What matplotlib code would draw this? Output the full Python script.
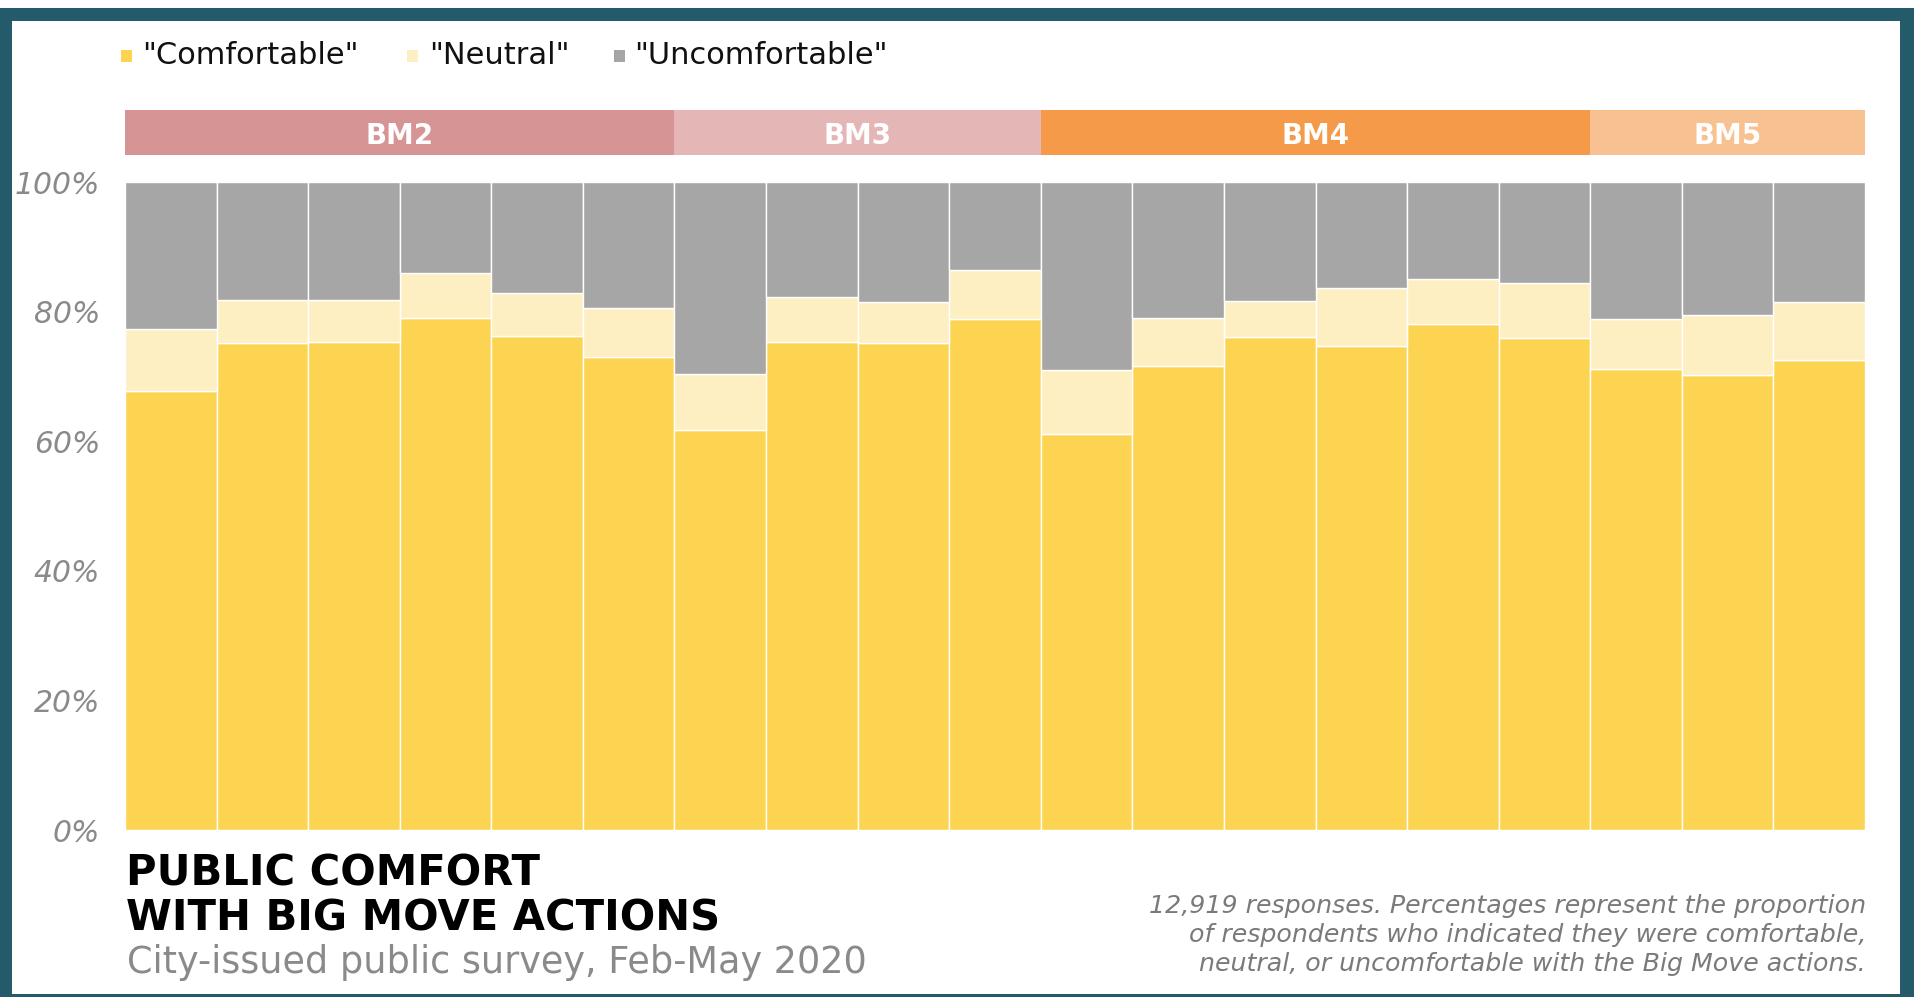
import numpy as np
import matplotlib
matplotlib.use("Agg")
import matplotlib.pyplot as plt
from matplotlib.patches import Rectangle

# survey shares per Big Move action (percent)
comfortable = [67.7, 75.2, 75.3, 79.0, 76.2, 73.0, 61.7, 75.3, 75.2, 78.9,
               61.1, 71.6, 76.1, 74.7, 78.1, 75.9, 71.1, 70.2, 72.5]
neutral = [9.6, 6.6, 6.5, 7.0, 6.7, 7.6, 8.7, 7.0, 6.3, 7.5,
           9.9, 7.4, 5.5, 8.9, 6.9, 8.5, 7.8, 9.3, 9.0]
uncomfortable = [22.7, 18.2, 18.2, 14.0, 17.1, 19.4, 29.6, 17.7, 18.5, 13.6,
                 29.0, 21.0, 18.4, 16.4, 15.0, 15.6, 21.1, 20.5, 18.5]

groups = ["BM2", "BM3", "BM4", "BM5"]
group_sizes = [6, 4, 6, 3]
group_colors = ["#D79494", "#E4B6B5", "#F59A48", "#F8C192"]

series_names = ['"Comfortable"', '"Neutral"', '"Uncomfortable"']
series_colors = ["#FDD352", "#FDEFC2", "#A6A6A6"]
yticks = [0, 20, 40, 60, 80, 100]

W, H = 1915, 997
def fx(px):
    return px / W
def fy(py):
    return 1 - py / H

fig = plt.figure(figsize=(W / 100, H / 100), dpi=100)
plt.rcParams['font.family'] = ['DejaVu Sans']

# teal frame
fig.add_artist(Rectangle((0, 0), 1, fy(8), transform=fig.transFigure,
                         facecolor="#235B6A", edgecolor="none", zorder=-10))
fig.add_artist(Rectangle((fx(12), fy(994)), fx(1900) - fx(12), fy(21) - fy(994),
                         transform=fig.transFigure, facecolor="white",
                         edgecolor="none", zorder=-9))

# main stacked bars
ax = fig.add_axes([fx(125), fy(830), fx(1865) - fx(125), fy(182) - fy(830)])
x = np.arange(len(comfortable))
c = np.array(comfortable)
n = np.array(neutral)
u = np.array(uncomfortable)
ax.bar(x, c, width=1, color=series_colors[0], edgecolor="white", linewidth=1)
ax.bar(x, n, bottom=c, width=1, color=series_colors[1], edgecolor="white", linewidth=1)
ax.bar(x, u, bottom=c + n, width=1, color=series_colors[2], edgecolor="white", linewidth=1)
ax.set_xlim(-0.5, len(x) - 0.5)
ax.set_ylim(0, 100)
ax.set_xticks([])
ax.set_yticks(yticks)
ax.set_yticklabels([f"{t}%" for t in yticks], fontsize=21.5, fontstyle="italic",
                   color="#8A8A8A")
ax.tick_params(axis="y", length=0, pad=18)
for s in ax.spines.values():
    s.set_visible(False)
ax.set_facecolor("none")

# group header strip
hax = fig.add_axes([fx(125), fy(155), fx(1865) - fx(125), fy(110) - fy(155)])
start = 0
for name, size, col in zip(groups, group_sizes, group_colors):
    hax.barh(0, size, left=start - 0.5, height=1, color=col, edgecolor="none")
    hax.text(start - 0.5 + size / 2, -0.08, name, ha="center", va="center",
             color="white", fontsize=20, fontweight="bold")
    start += size
hax.set_xlim(-0.5, len(x) - 0.5)
hax.set_ylim(-0.5, 0.5)
hax.axis("off")

# legend
sq_x = [121, 407, 614]
txt_x = [142, 429, 634]
for name, col, sx, tx in zip(series_names, series_colors, sq_x, txt_x):
    fig.add_artist(Rectangle((fx(sx), fy(62)), 11 / W, 12 / H,
                             transform=fig.transFigure, facecolor=col,
                             edgecolor="none"))
    fig.text(fx(tx), fy(56), name, fontsize=22, color="#111111",
             ha="left", va="center")

# title and notes
fig.text(fx(126), fy(896), "PUBLIC COMFORT\nWITH BIG MOVE ACTIONS", fontsize=30,
         fontweight="bold", color="black", ha="left", va="center",
         linespacing=1.12)
fig.text(fx(127), fy(962), "City-issued public survey, Feb-May 2020", fontsize=26.4,
         color="#8A8A8A", ha="left", va="center")
fig.text(fx(1866), fy(935),
         "12,919 responses. Percentages represent the proportion\n"
         "of respondents who indicated they were comfortable,\n"
         "neutral, or uncomfortable with the Big Move actions.",
         fontsize=18.2, fontstyle="italic", color="#7A7A7A", ha="right",
         va="center", multialignment="right", linespacing=1.26)

fig.savefig("out.png", dpi=100)
